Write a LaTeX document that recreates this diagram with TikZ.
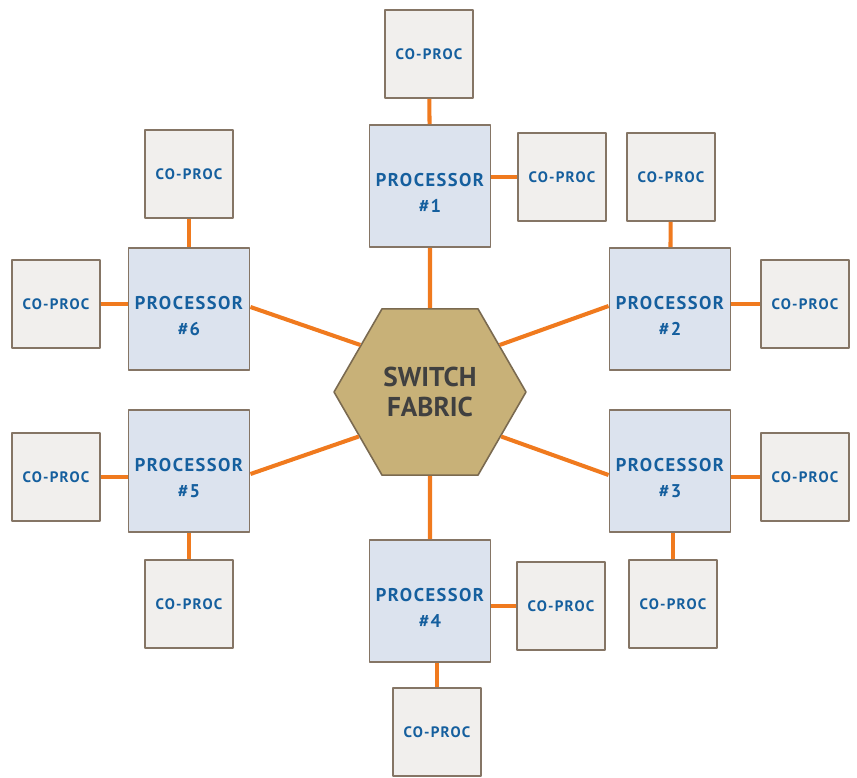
\documentclass[tikz,border=0pt]{standalone}
\usepackage{fontspec}
\setmainfont{PT Sans}
\newfontfamily\boxfont[LetterSpace=8]{PT Sans}
\usetikzlibrary{shapes.geometric}
\definecolor{wire}{HTML}{F07A1E}
\definecolor{edge}{HTML}{857565}
\definecolor{procfill}{HTML}{DCE3EE}
\definecolor{copfill}{HTML}{F1EFED}
\definecolor{hexfill}{HTML}{C8B178}
\definecolor{hexedge}{HTML}{7A6A50}
\definecolor{bluetxt}{HTML}{155F9E}
\tikzset{
 proc/.style={draw=edge, line width=1.1pt, fill=procfill, minimum width=2.42cm, minimum height=2.44cm,
  label={[font=\boxfont\bfseries\fontsize{10.5}{14.5}\selectfont, text=bluetxt, align=center, yshift=-0.14cm]center:#1}},
 coproc/.style={draw=edge, line width=1.1pt, fill=copfill, minimum size=1.76cm, inner sep=0pt,
  font=\boxfont\bfseries\fontsize{8.6}{9}\selectfont, text=bluetxt},
 link/.style={wire, line width=2.3pt}
}
\begin{document}
\begin{tikzpicture}[x=0.02cm, y=-0.02cm, line join=round]
 \useasboundingbox (0,0) rectangle (857,777);
 % switch in the middle
 \node[regular polygon, regular polygon sides=6, minimum size=3.84cm, inner sep=0pt, draw=hexedge, line width=0.9pt,
  fill=hexfill, text=black!75, align=center, font=\bfseries\fontsize{15.5}{17}\selectfont] (sw) at (430,392) {SWITCH\\FABRIC};
 % processors
 \node[proc={PROCESSOR\\\#1}] (p1) at (430,186) {};
 \node[proc={PROCESSOR\\\#2}] (p2) at (670,309) {};
 \node[proc={PROCESSOR\\\#3}] (p3) at (670,471) {};
 \node[proc={PROCESSOR\\\#4}] (p4) at (430,601) {};
 \node[proc={PROCESSOR\\\#5}] (p5) at (189,471) {};
 \node[proc={PROCESSOR\\\#6}] (p6) at (189,309) {};
 % co-processors
 \node[coproc] (c1a) at (429,54) {CO-PROC};
 \node[coproc] (c1b) at (562,177) {CO-PROC};
 \node[coproc] (c2a) at (671,177) {CO-PROC};
 \node[coproc] (c2b) at (805,304) {CO-PROC};
 \node[coproc] (c3a) at (805,477) {CO-PROC};
 \node[coproc] (c3b) at (673,604) {CO-PROC};
 \node[coproc] (c4a) at (561,606) {CO-PROC};
 \node[coproc] (c4b) at (437,732) {CO-PROC};
 \node[coproc] (c5a) at (189,604) {CO-PROC};
 \node[coproc] (c5b) at (56,477) {CO-PROC};
 \node[coproc] (c6a) at (56,304) {CO-PROC};
 \node[coproc] (c6b) at (189,174) {CO-PROC};
 % wires
 \draw[link] (p1) -- (sw);
 \draw[link] (p4) -- (sw);
 \draw[link] ([yshift=0.04cm]p6.east) -- (sw.146);
 \draw[link] ([yshift=-0.06cm]p5.east) -- (sw.212);
 \draw[link] ([yshift=0.06cm]p2.west) -- (sw.34);
 \draw[link] ([yshift=-0.08cm]p3.west) -- (sw.328);
 \draw[link] (c1a) -- (p1);
 \draw[link] (c1b.west) -- (c1b.west -| p1.east);
 \draw[link] (c2a) -- (p2);
 \draw[link] (c2b.west) -- (c2b.west -| p2.east);
 \draw[link] (c3a.west) -- (c3a.west -| p3.east);
 \draw[link] (c3b.north) -- (c3b.north |- p3.south);
 \draw[link] (c4a.west) -- (c4a.west -| p4.east);
 \draw[link] (c4b.north) -- (c4b.north |- p4.south);
 \draw[link] (c5a) -- (p5);
 \draw[link] (c5b.east) -- (c5b.east -| p5.west);
 \draw[link] (c6a.east) -- (c6a.east -| p6.west);
 \draw[link] (c6b) -- (p6);
\end{tikzpicture}
\end{document}
